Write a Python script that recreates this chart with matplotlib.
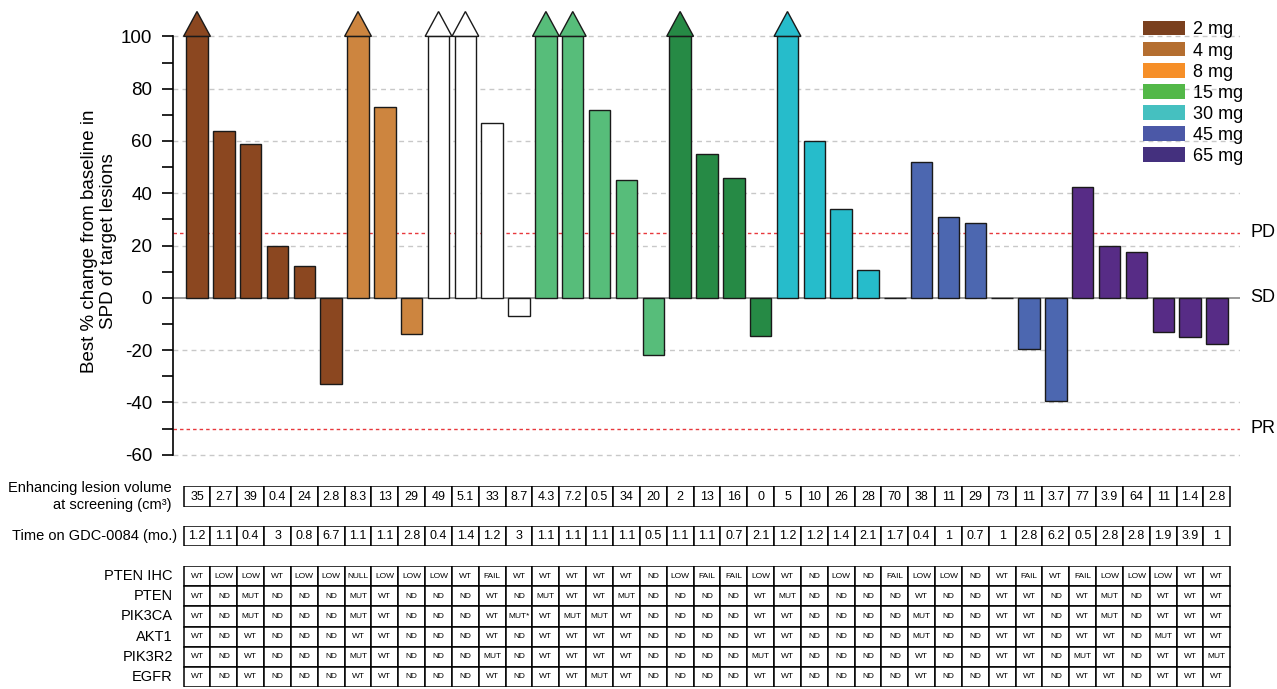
import matplotlib.pyplot as plt
import numpy as np
from matplotlib.patches import Patch, Polygon

plt.rcParams['font.family'] = ['Liberation Sans', 'DejaVu Sans']
plt.rcParams['axes.unicode_minus'] = False

# best % change in SPD per patient; None = progressed beyond +100 % (arrow)
best_change = [None, 64, 59, 20, 12.3, -32.8,
               None, 73, -13.7,
               None, None, 67, -7,
               None, None, 72, 45, -22,
               None, 55, 46, -14.5,
               None, 60, 34, 10.5, 0,
               52, 31, 28.5, 0, -19.7, -39.6,
               42.5, 20, 17.7, -13, -15, -17.8]

group_colors = ['#8B4720', '#CD853F', '#FFFFFF', '#57BD7A',
                '#268A45', '#26BCCB', '#4C67B0', '#572C86']
group_sizes = [6, 3, 4, 5, 4, 5, 6, 6]

legend_doses = ['2 mg', '4 mg', '8 mg', '15 mg', '30 mg', '45 mg', '65 mg']
legend_colors = ['#7A401E', '#B46E30', '#F68F28', '#53B848',
                 '#45C0C0', '#4B58A7', '#44307E']

lesion_volume = ['35', '2.7', '39', '0.4', '24', '2.8', '8.3', '13', '29',
                 '49', '5.1', '33', '8.7', '4.3', '7.2', '0.5', '34', '20',
                 '2', '13', '16', '0', '5', '10', '26', '28', '70', '38',
                 '11', '29', '73', '11', '3.7', '77', '3.9', '64', '11',
                 '1.4', '2.8']
time_on_drug = ['1.2', '1.1', '0.4', '3', '0.8', '6.7', '1.1', '1.1', '2.8',
                '0.4', '1.4', '1.2', '3', '1.1', '1.1', '1.1', '1.1', '0.5',
                '1.1', '1.1', '0.7', '2.1', '1.2', '1.2', '1.4', '2.1', '1.7',
                '0.4', '1', '0.7', '1', '2.8', '6.2', '0.5', '2.8', '2.8',
                '1.9', '3.9', '1']

gene_names = ['PTEN IHC', 'PTEN', 'PIK3CA', 'AKT1', 'PIK3R2', 'EGFR']
pten_ihc = ('WT LOW LOW WT LOW LOW NULL LOW LOW LOW WT FAIL WT WT WT WT WT ND '
            'LOW FAIL FAIL LOW WT ND LOW ND FAIL LOW LOW ND WT FAIL WT FAIL '
            'LOW LOW LOW WT WT').split()
pten = ('WT ND MUT ND ND ND MUT WT ND ND ND WT ND MUT WT WT MUT ND ND ND '
        'ND WT MUT ND ND ND ND WT ND ND WT WT ND WT MUT ND WT WT WT').split()
pik3ca = ('WT ND MUT ND ND ND MUT WT ND ND ND WT MUT* WT MUT MUT WT ND ND ND '
          'ND WT WT ND ND ND ND MUT ND ND WT WT ND WT MUT ND WT WT WT').split()
akt1 = ('WT ND WT ND ND ND WT WT ND ND ND WT ND WT WT WT WT ND ND ND '
        'ND WT WT ND ND ND ND MUT ND ND WT WT ND WT WT ND MUT WT WT').split()
pik3r2 = ('WT ND WT ND ND ND MUT WT ND ND ND MUT ND WT WT WT WT ND ND ND '
          'ND MUT WT ND ND ND ND WT ND ND WT WT ND MUT WT ND WT WT MUT').split()
egfr = ('WT ND WT ND ND ND WT WT ND ND ND WT ND WT WT MUT WT ND ND ND '
        'ND WT WT ND ND ND ND WT ND ND WT WT ND WT WT ND WT WT WT').split()
gene_rows = [pten_ihc, pten, pik3ca, akt1, pik3r2, egfr]

cap = 100
n = len(best_change)
x = np.arange(n)
bar_colors = np.repeat(group_colors, group_sizes)
heights = [cap if v is None else v for v in best_change]

W, H = 1277, 689
fig = plt.figure(figsize=(W / 100, H / 100), dpi=100)
xlim = (-0.894, 38.86)
left, width = 173 / W, 1067 / W

ax = fig.add_axes([left, 1 - 460 / H, width, 455 / H])
ax.set_xlim(*xlim)
ax.set_ylim(-62, 112)

# grid and response thresholds
for g in [-60, -40, -20, 20, 40, 60, 80, 100]:
    ax.axhline(g, color='#c8c8c8', lw=1, ls=(0, (3.5, 3)), zorder=0)
ax.axhline(0, color='#999999', lw=1.4, zorder=0)
ax.axhline(25, color='#e8383d', lw=1, ls=(0, (2.5, 2.2)), zorder=0)
ax.axhline(-50, color='#e8383d', lw=1, ls=(0, (2.5, 2.2)), zorder=0)

ax.bar(x, heights, width=0.8, color=bar_colors, edgecolor='#1a1a1a',
       lw=1, zorder=2)
for xi, v, c in zip(x, best_change, bar_colors):
    if v is None:
        head = Polygon([(xi - 0.5, cap), (xi + 0.5, cap), (xi, cap + 9.5)],
                       closed=True, facecolor=c, edgecolor='#1a1a1a',
                       lw=1, zorder=3)
        ax.add_patch(head)

for label, yv in [('PD', 25), ('SD', 0), ('PR', -50)]:
    ax.text(39.25, yv, label, fontsize=13, va='center', ha='left')

ax.spines[['top', 'right', 'bottom']].set_visible(False)
ax.spines['left'].set_bounds(-60, 100)
ax.spines['left'].set_linewidth(1.2)
ax.set_xticks([])
ax.set_yticks(np.arange(-60, 101, 20))
ax.set_yticks(np.arange(-50, 100, 20), minor=True)
ax.tick_params(axis='y', which='major', length=8, width=1.2, pad=7,
               labelsize=13.5)
ax.tick_params(axis='y', which='minor', length=8, width=1.2)

fig.text(99 / W, 1 - 241 / H,
         'Best % change from baseline in\nSPD of target lesions',
         rotation=90, ha='center', va='center', fontsize=13.5,
         multialignment='center', linespacing=1.1)

handles = [Patch(facecolor=c, edgecolor='none') for c in legend_colors]
ax.legend(handles, legend_doses, loc='upper left', frameon=False,
          bbox_to_anchor=(1143 / W, 1 - 21 / H),
          bbox_transform=fig.transFigure, fontsize=13, borderpad=0,
          borderaxespad=0, handlelength=2.35, handleheight=0.85,
          handletextpad=0.4, labelspacing=0.2)


def table_axes(top_px, bottom_px, nrows):
    t = fig.add_axes([left, 1 - bottom_px / H, width,
                      (bottom_px - top_px) / H])
    t.set_xlim(*xlim)
    t.set_ylim(0, nrows)
    t.axis('off')
    return t


t1 = table_axes(486, 507, 1)
t1.bar(x, 1, width=1, bottom=0, color='white', edgecolor='black', lw=1.1)
for xi, s in zip(x, lesion_volume):
    t1.text(xi, 0.5, s, ha='center', va='center', fontsize=9)
t1.text(-0.95, 0.5, 'Enhancing lesion volume\nat screening (cm³)',
        ha='right', va='center', fontsize=10.5, multialignment='right',
        linespacing=1.2)

t2 = table_axes(526, 546, 1)
t2.bar(x, 1, width=1, bottom=0, color='white', edgecolor='black', lw=1.1)
for xi, s in zip(x, time_on_drug):
    t2.text(xi, 0.5, s, ha='center', va='center', fontsize=9)
t2.text(-0.75, 0.5, 'Time on GDC-0084 (mo.)', ha='right', va='center',
        fontsize=10.5)

t3 = table_axes(566, 687, len(gene_rows))
for r, (name, row) in enumerate(zip(gene_names, gene_rows)):
    yb = len(gene_rows) - 1 - r
    t3.bar(x, 1, width=1, bottom=yb, color='white', edgecolor='black',
           lw=1.1)
    for xi, s in zip(x, row):
        t3.text(xi, yb + 0.5, s, ha='center', va='center', fontsize=6)
    t3.text(-0.9, yb + 0.5, name, ha='right', va='center', fontsize=10.5)

fig.savefig('out.png', dpi=100)
